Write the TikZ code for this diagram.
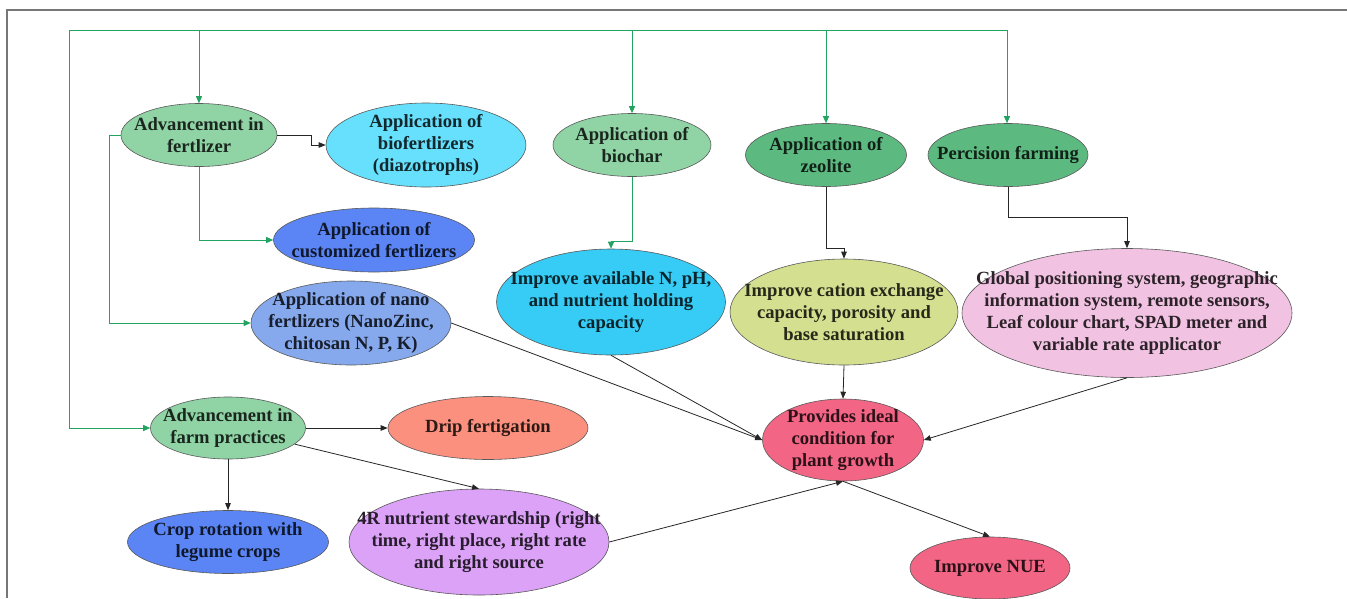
\documentclass[tikz,border=0pt]{standalone}
\usepackage{fontspec}
\setmainfont{Liberation Serif}
\usetikzlibrary{shapes.geometric,arrows.meta,calc}
\definecolor{lgreen}{HTML}{22A35F}
\definecolor{cAF}{HTML}{90D4A6}
\definecolor{cZE}{HTML}{5CBA80}
\definecolor{cBIO}{HTML}{66E0FC}
\definecolor{cCUST}{HTML}{5B85F5}
\definecolor{cNANO}{HTML}{86A9EE}
\definecolor{cIAN}{HTML}{36CCF6}
\definecolor{cCEC}{HTML}{D4E08F}
\definecolor{cGPS}{HTML}{F2C2E2}
\definecolor{cPIC}{HTML}{F26585}
\definecolor{cDRIP}{HTML}{FB907F}
\definecolor{cR4}{HTML}{DCA2F8}
\definecolor{cframe}{HTML}{777777}
\newcommand\myell[7]{%
  \node[ell,fill=#6,minimum width=#4pt,minimum height=#5pt] (#1) at (#2,#3) {};
  \node[lbl,text=#6!18!black] (#1t) at (#1) {#7};}
\begin{document}
\begin{tikzpicture}[x=1pt,y=-1pt,
  ell/.style={ellipse, draw=black!65, line width=0.6pt, inner sep=0pt},
  lbl/.style={font=\bfseries\fontsize{18.6}{21.7}\selectfont, align=center, inner sep=0pt},
  garr/.style={draw=lgreen, line width=0.9pt, -{Triangle[length=7pt,width=6pt]}, color=lgreen},
  gline/.style={draw=lgreen, line width=0.9pt},
  barr/.style={draw=black!85, line width=0.8pt, -{Triangle[length=7pt,width=5.5pt]}},
  frame/.style={draw=cframe, line width=1.6pt}]
\useasboundingbox (0,0) rectangle (1347,598);
\draw[frame] (1347,10) -- (7,10) -- (7,598);

\myell{AF}{199}{135}{156}{63}{cAF}{Advancement in\\fertlizer}
\myell{BIO}{426}{145}{200}{84}{cBIO}{Application of\\biofertlizers\\(diazotrophs)}
\myell{CUST}{374}{240}{201}{64}{cCUST}{Application of\\customized fertlizers}
\myell{BCH}{632}{145}{158}{63}{cAF}{Application of\\biochar}
\myell{ZEO}{826}{155}{161}{63}{cZE}{Application of\\zeolite}
\myell{PREC}{1008}{155}{160}{63}{cZE}{Percision farming}
\myell{IAN}{611}{302}{229}{106}{cIAN}{Improve available N, pH,\\and nutrient holding\\capacity}
\myell{CEC}{844}{312}{228}{106}{cCEC}{Improve cation exchange\\capacity, porosity and\\base saturation}
\myell{GPS}{1127}{313}{330}{129}{cGPS}{Global positioning system, geographic\\information system, remote sensors,\\Leaf colour chart, SPAD meter and\\variable rate applicator}
\myell{NANO}{351}{323}{200}{84}{cNANO}{Application of nano\\fertlizers (NanoZinc,\\chitosan N, P, K)}
\myell{PIC}{843}{440}{161}{82}{cPIC}{Provides ideal\\condition for\\plant growth}
\myell{AFP}{228}{428}{155}{62}{cAF}{Advancement in\\farm practices}
\myell{DRIP}{488}{428}{200}{63}{cDRIP}{Drip fertigation}
\myell{CROP}{228}{542}{201}{63}{cCUST}{Crop rotation with\\legume crops}
\myell{R4}{479}{542}{260}{106}{cR4}{4R nutrient stewardship (right\\time, right place, right rate\\and right source}
\myell{NUE}{990}{568}{160}{62}{cPIC}{Improve NUE}

% green bus
\coordinate (busL) at (69,30);
\coordinate (busR) at (1007,30);
\draw[garr] (busR) -- (busL) |- (AFP.west);
\draw[garr] (AF.north |- busL) -- (AF.north);
\draw[garr] (BCH.north |- busL) -- (BCH.north);
\draw[garr] (ZEO.north |- busL) -- (ZEO.north);
\draw[garr] (busR) -- (busR |- PREC.north);
\draw[garr] (AF.west) -- ++(-11,0) |- (NANO.west);
\draw[garr] (AF.south) |- (CUST.west);
\draw[garr] (BCH.south) -- ++(0,65) -| (IAN.north);

% black orthogonal
\draw[barr] (AF.east) -- ++(34,0) |- (BIO.west);
\draw[barr] (ZEO.south) -- ++(0,62) -| (CEC.north);
\draw[barr] (PREC.south) -- ++(0,31) -| (GPS.north);

% black straight
\draw[barr] (NANO.east) -- (PIC.west);
\draw[barr] (IAN.south) -- (PIC.west);
\draw[barr] (CEC.south) -- (PIC.north);
\draw[barr] (GPS.south) -- (PIC.east);
\draw[barr] (AFP.east) -- (DRIP.west);
\draw[barr] (AFP.south) -- (CROP.north);
\draw[barr] (AFP) -- (R4.north);
\draw[barr] (R4.east) -- (PIC.south);
\draw[barr] (PIC.south) -- (NUE.north);
\end{tikzpicture}
\end{document}
